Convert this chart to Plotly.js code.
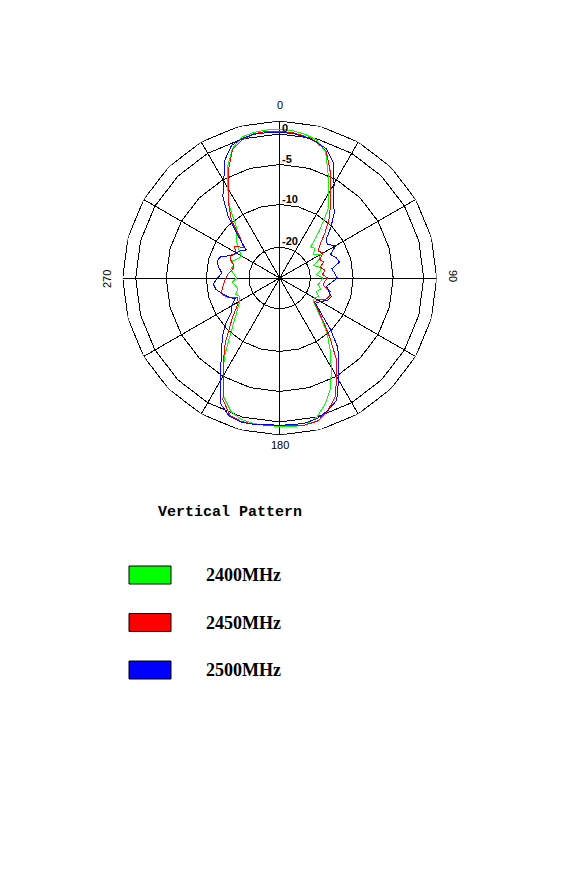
<!DOCTYPE html>
<html>
<head>
<meta charset="utf-8">
<script src="https://cdn.plot.ly/plotly-3.0.1.min.js"></script>
<style>
html, body {margin:0; padding:0; background:#fff;}
#chart {width:565px; height:879px;}
#chart .scatterlayer path {shape-rendering: crispEdges;}
</style>
</head>
<body>
<div id="chart"></div>
<script>
// measured pattern, dB, every 5 degrees
var angles = [0,5,10,15,20,25,30,35,40,45,50,55,60,65,70,75,80,85,90,95,100,105,110,115,
	120,125,130,135,140,145,150,155,160,165,170,175,180,185,190,195,200,205,210,215,220,225,230,235,
	240,245,250,255,260,265,270,275,280,285,290,295,300,305,310,315,320,325,330,335,340,345,350,355];

var db2400 = [0.7,0.6,0.3,-0.2,-1.6,-4.8,-7.0,-8.6,-12.7,-16.9,-16.4,-17.6,-16.2,-17.1,-18.8,-17.4,-17.6,-18.6,
	-17.1,-17.6,-18.1,-17.2,-18.1,-17.1,-17.8,-17.6,-15.8,-13.2,-9.9,-8.2,-6.3,-3.8,-1.7,0.0,0.8,0.8,
	0.7,0.6,0.6,0.4,-0.3,-2.0,-5.1,-7.1,-9.4,-11.8,-13.9,-15.3,-16.4,-16.9,-16.2,-17.1,-16.7,-16.0,
	-17.1,-16.4,-15.5,-16.0,-15.5,-16.4,-16.9,-15.5,-14.1,-12.9,-11.3,-8.2,-6.2,-3.4,-1.0,0.3,0.6,0.7];

var db2450 = [0.4,0.3,0.0,-0.5,-1.4,-4.1,-6.4,-8.1,-9.6,-12.2,-14.8,-16.2,-15.5,-16.9,-16.2,-17.4,-16.4,-17.1,
	-16.0,-16.7,-16.8,-15.0,-14.8,-15.3,-16.9,-17.4,-15.5,-12.7,-9.4,-6.9,-4.9,-2.1,-0.5,0.6,0.8,0.7,
	0.6,0.6,0.7,0.7,0.3,-1.6,-5.2,-7.0,-8.6,-10.6,-12.7,-14.8,-16.0,-16.2,-14.1,-13.0,-13.6,-14.1,
	-14.6,-15.1,-16.0,-16.1,-15.0,-14.6,-15.5,-14.1,-16.2,-14.3,-9.8,-8.1,-6.4,-3.8,-1.1,-0.1,0.4,0.5];

var db2500 = [0.2,0.2,-0.1,-0.5,-1.1,-2.8,-5.6,-7.4,-8.6,-10.2,-12.9,-13.6,-12.0,-14.1,-13.2,-12.7,-14.8,-14.3,
	-13.7,-15.0,-16.1,-15.3,-14.3,-14.8,-16.2,-16.9,-14.8,-10.6,-7.9,-6.3,-4.3,-1.5,-0.5,0.2,0.5,0.5,
	0.5,0.5,0.7,0.8,0.5,-0.8,-4.1,-6.4,-7.9,-9.1,-10.8,-13.4,-14.3,-15.7,-14.3,-13.2,-12.0,-11.6,
	-12.7,-13.6,-12.7,-12.0,-12.5,-14.8,-15.5,-16.0,-17.0,-13.6,-9.2,-6.8,-5.2,-2.3,-0.5,0.1,0.3,0.3];

var seriesNames = ['2400MHz', '2450MHz', '2500MHz'];
var seriesColors = ['#00ff00', '#ff0000', '#0000ff'];
var seriesData = [db2400, db2450, db2500];

var ringDb = [-20, -10, -5, 0];
var ringLabels = ['-20', '-10', '-5', '0'];
var angleLabels = ['0', '90', '180', '270'];

// the chart's radial scale is not linear in dB, map through the ring positions
var scaleDb = [-30, -20, -10, -5, 0, 2];
var scaleR = [0, 30.7, 73.5, 113.5, 144, 157];
var R_MAX = 157;

function dbToR(db){
	if (db <= scaleDb[0]) return scaleR[0];
	for (var i = 1; i < scaleDb.length; i++){
		if (db <= scaleDb[i]){
			var t = (db - scaleDb[i-1]) / (scaleDb[i] - scaleDb[i-1]);
			return scaleR[i-1] + t * (scaleR[i] - scaleR[i-1]);
		}
	}
	return scaleR[scaleR.length-1];
}

var W = 565, H = 879;
var CX = 279.7, CY = 278;   // pixel centre of the polar domain below
function px(x){ return x / W; }
function py(y){ return 1 - y / H; }

var data = [];

//grid rings as 24 sided polygons
var ringR = ringDb.map(dbToR).concat([R_MAX]);
var gridTheta = [], gridR = [];
for (var k = 0; k < ringR.length; k++){
	for (var a = 0; a <= 360; a += 15){
		gridTheta.push(a);
		gridR.push(ringR[k]);
	}
	gridTheta.push(null);
	gridR.push(null);
}
//spokes every 30 degrees
for (var a = 0; a < 180; a += 30){
	gridTheta.push(a, a + 180, null);
	gridR.push(R_MAX, R_MAX, null);
}
data.push({
	type: 'scatterpolar', mode: 'lines',
	theta: gridTheta, r: gridR,
	line: {color: '#000', width: 1},
	connectgaps: false, hoverinfo: 'skip', showlegend: false
});

for (var s = 0; s < seriesData.length; s++){
	var th = angles.concat([angles[0]]);
	var rr = seriesData[s].concat([seriesData[s][0]]).map(dbToR);
	data.push({
		type: 'scatterpolar', mode: 'lines',
		name: seriesNames[s],
		theta: th, r: rr,
		line: {color: seriesColors[s], width: 1},
		showlegend: false
	});
}

var annotations = [];
var angleLabelPos = [[279.7, 105, 0], [453, 276, 90], [279.7, 445, 0], [107, 279, -90]];
for (var i = 0; i < angleLabels.length; i++){
	annotations.push({
		text: angleLabels[i], xref: 'paper', yref: 'paper',
		x: px(angleLabelPos[i][0]), y: py(angleLabelPos[i][1]),
		xanchor: 'center', yanchor: 'middle', textangle: angleLabelPos[i][2],
		showarrow: false,
		font: {family: 'Liberation Sans, Arial, sans-serif', size: 11, color: '#000'}
	});
}

//ring labels sit just right of the 0 degree spoke, a little above each ring
for (var i = 0; i < ringLabels.length; i++){
	annotations.push({
		text: '<b>' + ringLabels[i] + '</b>', xref: 'paper', yref: 'paper',
		x: px(CX + 0.5), y: py(CY - ringR[i] - 6),
		xanchor: 'left', yanchor: 'middle', showarrow: false,
		font: {family: 'Liberation Sans, Arial, sans-serif', size: 11, color: '#000'}
	});
}

//legend: boxes and labels
var shapes = [];
for (var i = 0; i < seriesNames.length; i++){
	var boxTop = 566 + i * 47.5;
	shapes.push({
		type: 'rect', xref: 'paper', yref: 'paper',
		x0: px(129), x1: px(171), y0: py(boxTop + 18), y1: py(boxTop),
		fillcolor: seriesColors[i], line: {color: '#000', width: 1}
	});
	annotations.push({
		text: '<b>' + seriesNames[i] + '</b>', xref: 'paper', yref: 'paper',
		x: px(204), y: py(boxTop + 9), xanchor: 'left', yanchor: 'middle',
		showarrow: false,
		font: {family: 'Liberation Serif, Times New Roman, serif', size: 18, color: '#000'}
	});
}

var layout = {
	width: W, height: H,
	margin: {l: 0, r: 0, t: 0, b: 0},
	paper_bgcolor: '#fff',
	showlegend: false,
	title: {
		text: '<b>Vertical Pattern</b>',
		x: px(230), y: py(511), xanchor: 'center', yanchor: 'middle',
		font: {family: 'Liberation Mono, Courier New, monospace', size: 15, color: '#000'}
	},
	polar: {
		domain: {x: [px(CX - R_MAX), px(CX + R_MAX)], y: [py(CY + R_MAX), py(CY - R_MAX)]},
		bgcolor: '#fff',
		radialaxis: {
			range: [0, R_MAX], angle: 90,
			showgrid: false, showline: false, ticks: '', showticklabels: false
		},
		angularaxis: {
			rotation: 90, direction: 'clockwise',
			showgrid: false, showline: false, ticks: '', showticklabels: false
		}
	},
	annotations: annotations,
	shapes: shapes
};

Plotly.newPlot('chart', data, layout, {staticPlot: true});
</script>
</body>
</html>
